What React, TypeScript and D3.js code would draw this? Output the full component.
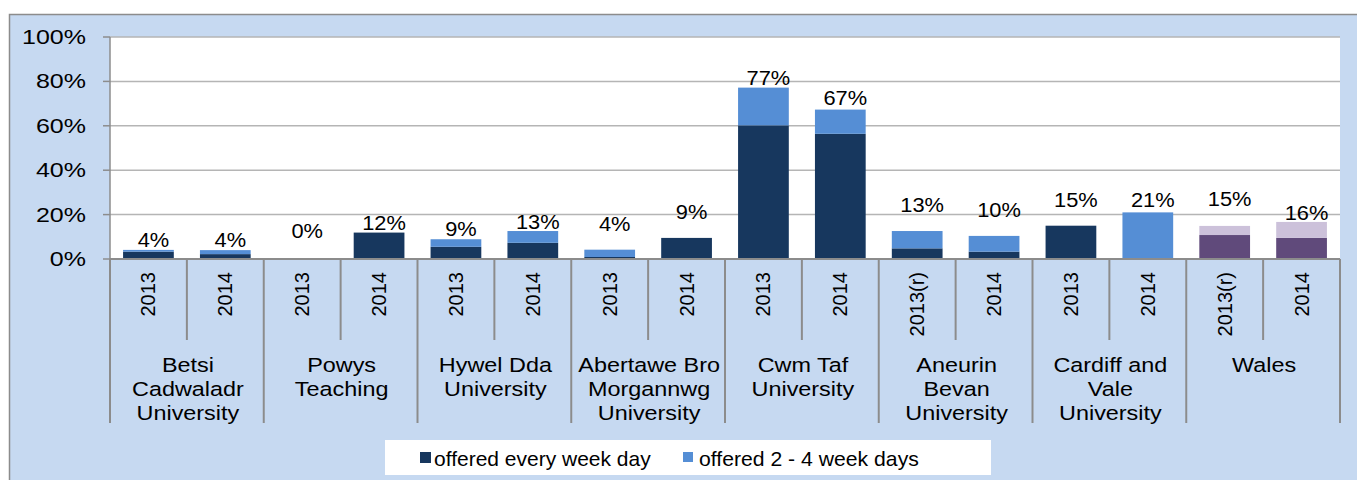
import React from "react";
import * as d3 from "d3";

// health boards, two years each
const groups = [
  "Betsi\nCadwaladr\nUniversity",
  "Powys\nTeaching",
  "Hywel Dda\nUniversity",
  "Abertawe Bro\nMorgannwg\nUniversity",
  "Cwm Taf\nUniversity",
  "Aneurin\nBevan\nUniversity",
  "Cardiff and\nVale\nUniversity",
  "Wales",
];
const years = [
  "2013", "2014", "2013", "2014", "2013", "2014", "2013", "2014",
  "2013", "2014", "2013(r)", "2014", "2013", "2014", "2013(r)", "2014",
];
const everyDay = [3.3, 2.2, 0, 11.9, 5.5, 7.3, 0.9, 9.5, 60.2, 56.4, 4.8, 3.3, 15, 0, 10.8, 9.5];
const twoToFour = [0.8, 1.8, 0, 0, 3.4, 5.3, 3.3, 0, 17.0, 10.9, 7.8, 7.1, 0, 21, 4.1, 7.2];
const totalLabels = ["4%", "4%", "0%", "12%", "9%", "13%", "4%", "9%", "77%", "67%", "13%", "10%", "15%", "21%", "15%", "16%"];
const yTicks = [0, 20, 40, 60, 80, 100];
const seriesNames = ["offered every week day", "offered 2 - 4 week days"];

// how far each label sits above its bar (px), as placed in the original
const labelLift = [3, 3, 21, 3, 3, 2, 19, 19, 3, 5, 19, 19, 19, 5, 20, 2];

const W = 1357;
const H = 480;
const left = 110, right = 1340, top = 37, bottom = 259;

// the original text is drawn a little wide
const Wide = ({ x, y, k, anchor, size, children }: any) => (
  <text
    transform={`translate(${x},${y}) scale(${k},1)`}
    textAnchor={anchor}
    fontFamily="'Liberation Sans', Arial, sans-serif"
    fontSize={size}
    fill="#000"
  >
    {children}
  </text>
);

const App = () => {
  const idx = years.map((_, i) => i);
  const x = d3.scaleBand<number>().domain(idx).range([left, right]).paddingInner(0.34).paddingOuter(0.17);
  const y = d3.scaleLinear().domain([0, 100]).range([bottom, top]);
  const step = x.step();

  const colDark = (i: number) => (i >= 14 ? "#604a7b" : "#17375e");
  const colLight = (i: number) => (i >= 14 ? "#ccc1da" : "#558ed5");

  return (
    <svg width={W} height={H} style={{ position: "absolute", left: 0, top: 0 }}>
      <rect x={9.5} y={14.5} width={1400} height={500} fill="#c6d9f1" stroke="#8c8c8c" strokeWidth={1.5} />
      <rect x={left} y={top} width={right - left} height={bottom - top} fill="#ffffff" />

      {/* gridlines and y axis */}
      {yTicks.map((t) => (
        <g key={t}>
          {t > 0 && <line x1={left} x2={right} y1={y(t)} y2={y(t)} stroke="#b5b5b5" strokeWidth={1.5} />}
          <line x1={left - 7} x2={left} y1={y(t)} y2={y(t)} stroke="#8c8c8c" strokeWidth={1.5} />
          <Wide x={86} y={y(t) + 7} k={1.19} anchor="end" size={21}>
            {t}%
          </Wide>
        </g>
      ))}
      <line x1={left} x2={left} y1={top} y2={bottom} stroke="#8c8c8c" strokeWidth={1.5} />

      {/* bars */}
      {idx.map((i) => (
        <g key={i}>
          {everyDay[i] > 0 && (
            <rect x={x(i)} width={x.bandwidth()} y={y(everyDay[i])} height={y(0) - y(everyDay[i])} fill={colDark(i)} />
          )}
          {twoToFour[i] > 0 && (
            <rect
              x={x(i)}
              width={x.bandwidth()}
              y={y(everyDay[i] + twoToFour[i])}
              height={y(everyDay[i]) - y(everyDay[i] + twoToFour[i])}
              fill={colLight(i)}
            />
          )}
          <Wide
            x={(x(i) as number) + x.bandwidth() / 2 + 5}
            y={y(everyDay[i] + twoToFour[i]) - labelLift[i]}
            k={1.12}
            anchor="middle"
            size={19.5}
          >
            {totalLabels[i]}
          </Wide>
        </g>
      ))}

      {/* category axis */}
      <line x1={left} x2={right} y1={bottom} y2={bottom} stroke="#8c8c8c" strokeWidth={2} />
      {d3.range(years.length + 1).map((k) => {
        const xx = left + k * step;
        const long = k % 2 === 0;
        return (
          <line key={k} x1={xx} x2={xx} y1={bottom} y2={long ? 423 : 340} stroke="#8c8c8c" strokeWidth={2} />
        );
      })}
      {idx.map((i) => {
        const cx = (x(i) as number) + x.bandwidth() / 2;
        return (
          <text
            key={i}
            transform={`translate(${cx + 7},272) rotate(-90)`}
            textAnchor="end"
            fontFamily="'Liberation Sans', Arial, sans-serif"
            fontSize={20}
            fill="#000"
          >
            {years[i]}
          </text>
        );
      })}
      {groups.map((g, gi) => {
        const cx = left + (gi * 2 + 1) * step + 1;
        return (
          <Wide key={gi} x={cx} y={372} k={1.2} anchor="middle" size={19.5}>
            {g.split("\n").map((ln, li) => (
              <tspan key={li} x={0} y={li * 24}>
                {ln}
              </tspan>
            ))}
          </Wide>
        );
      })}

      {/* legend */}
      <rect x={385} y={440} width={606} height={35} fill="#ffffff" />
      <rect x={420} y={452} width={11} height={11} fill="#17375e" />
      <Wide x={434} y={466} k={1.05} anchor="start" size={20}>
        {seriesNames[0]}
      </Wide>
      <rect x={683} y={452} width={10} height={10} fill="#558ed5" />
      <Wide x={699} y={466} k={1.06} anchor="start" size={20}>
        {seriesNames[1]}
      </Wide>
    </svg>
  );
};

export default App;
